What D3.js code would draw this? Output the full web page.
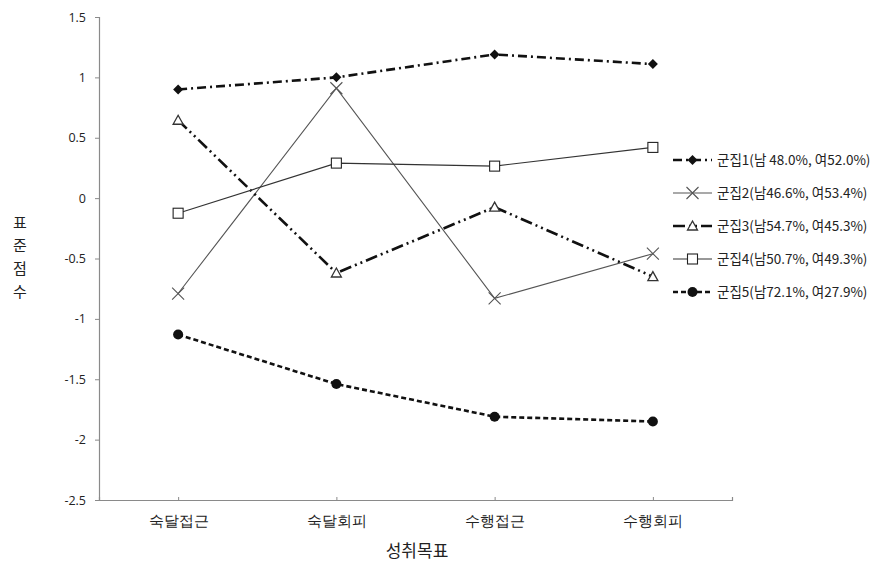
<!DOCTYPE html>
<html>
<head>
<meta charset="utf-8">
<script src="https://cdn.jsdelivr.net/npm/d3@7/dist/d3.min.js"></script>
<style>
  html, body { margin: 0; padding: 0; background: #fff; }
  svg { display: block; font-family: "Noto Sans CJK KR", "Noto Sans", sans-serif; }
</style>
</head>
<body>
<svg id="chart" width="880" height="562"></svg>
<script>
// Achievement-goal categories on the x axis
const categories = ["숙달접근", "숙달회피", "수행접근", "수행회피"];

// Standardized scores per cluster
const cluster1 = [0.90, 1.00, 1.19, 1.11];
const cluster2 = [-0.79, 0.91, -0.83, -0.46];
const cluster3 = [0.645, -0.62, -0.075, -0.65];
const cluster4 = [-0.125, 0.29, 0.265, 0.42];
const cluster5 = [-1.13, -1.54, -1.81, -1.85];

const seriesNames = [
  "군집1(남 48.0%, 여52.0%)",
  "군집2(남46.6%, 여53.4%)",
  "군집3(남54.7%, 여45.3%)",
  "군집4(남50.7%, 여49.3%)",
  "군집5(남72.1%, 여27.9%)"
];

const yTicks = [1.5, 1, 0.5, 0, -0.5, -1, -1.5, -2, -2.5];

// Visual style per series
const styles = [
  { values: cluster1, stroke: "#111", width: 2.6, dash: "9,4,2,4", marker: "diamond" },
  { values: cluster2, stroke: "#555", width: 1.1, dash: null, marker: "cross" },
  { values: cluster3, stroke: "#111", width: 2.6, dash: "12,4,2,4,2,4", marker: "triangle" },
  { values: cluster4, stroke: "#333", width: 1.1, dash: null, marker: "square" },
  { values: cluster5, stroke: "#111", width: 2.6, dash: "5,3", marker: "circle" }
];

const svg = d3.select("#chart");

const x = d3.scalePoint().domain(categories).range([99, 732]).padding(0.5);
const y = d3.scaleLinear().domain([-2.5, 1.5]).range([500, 17]);

// Y axis
const yAxis = svg.append("g")
  .attr("transform", "translate(99,0)")
  .call(d3.axisLeft(y).tickValues(yTicks).tickSize(4).tickPadding(9).tickFormat(d => String(d)));
yAxis.select(".domain").attr("stroke", "#8a8a8a").attr("stroke-width", 1.2);
yAxis.selectAll(".tick line").attr("stroke", "#8a8a8a");
yAxis.selectAll(".tick text").attr("fill", "#222").style("font-size", "12.5px")
  .style("font-family", "'Open Sans', 'Noto Sans', sans-serif");

// X axis
const xAxis = svg.append("g")
  .attr("transform", "translate(0,500)")
  .call(d3.axisBottom(x).tickSizeInner(-3).tickSizeOuter(-3).tickPadding(16));
xAxis.select(".domain").attr("stroke", "#8a8a8a").attr("stroke-width", 1.2);
xAxis.selectAll(".tick line").attr("stroke", "#8a8a8a");
xAxis.selectAll(".tick text").attr("fill", "#222").style("font-size", "14.5px");

// Axis titles
svg.append("text")
  .attr("x", 417).attr("y", 557)
  .attr("text-anchor", "middle")
  .style("font-size", "17px").attr("fill", "#222")
  .text("성취목표");

const yTitle = "표준점수".split("");
svg.append("g").selectAll("text").data(yTitle).join("text")
  .attr("x", 20)
  .attr("y", (d, i) => 228 + i * 23)
  .attr("text-anchor", "middle")
  .style("font-size", "15px").attr("fill", "#222")
  .text(d => d);

// Marker drawing helper
function drawMarker(g, type, cx, cy) {
  if (type === "diamond") {
    g.append("path").attr("d", d3.symbol(d3.symbolSquare, 50)())
      .attr("transform", `translate(${cx},${cy}) rotate(45)`).attr("fill", "#111");
  } else if (type === "cross") {
    g.append("path")
      .attr("d", `M${cx - 6},${cy - 6}L${cx + 6},${cy + 6}M${cx - 6},${cy + 6}L${cx + 6},${cy - 6}`)
      .attr("stroke", "#555").attr("stroke-width", 1.1).attr("fill", "none");
  } else if (type === "triangle") {
    g.append("path")
      .attr("d", `M${cx},${cy - 5}L${cx + 5},${cy + 4}L${cx - 5},${cy + 4}Z`)
      .attr("stroke", "#333").attr("stroke-width", 1.3).attr("fill", "#fff");
  } else if (type === "square") {
    g.append("rect").attr("x", cx - 5).attr("y", cy - 5).attr("width", 10).attr("height", 10)
      .attr("stroke", "#222").attr("stroke-width", 1.1).attr("fill", "#fff");
  } else if (type === "circle") {
    g.append("circle").attr("cx", cx).attr("cy", cy).attr("r", 5).attr("fill", "#111");
  }
}

const line = d3.line().x((d, i) => x(categories[i])).y(d => y(d));

// Series lines and markers
const plot = svg.append("g");
styles.forEach(s => {
  plot.append("path")
    .datum(s.values)
    .attr("d", line)
    .attr("fill", "none")
    .attr("stroke", s.stroke)
    .attr("stroke-width", s.width)
    .attr("stroke-dasharray", s.dash);
});
styles.forEach(s => {
  const g = plot.append("g");
  s.values.forEach((v, i) => drawMarker(g, s.marker, x(categories[i]), y(v)));
});

// Legend
const legend = svg.append("g");
styles.forEach((s, i) => {
  const ly = 160 + i * 33;
  legend.append("line")
    .attr("x1", 673).attr("x2", 712).attr("y1", ly).attr("y2", ly)
    .attr("stroke", s.stroke).attr("stroke-width", s.width)
    .attr("stroke-dasharray", s.dash);
  drawMarker(legend, s.marker, 692.5, ly);
  legend.append("text")
    .attr("x", 717).attr("y", ly + 5)
    .style("font-size", "13.5px").attr("fill", "#222")
    .text(seriesNames[i]);
});
</script>
</body>
</html>
